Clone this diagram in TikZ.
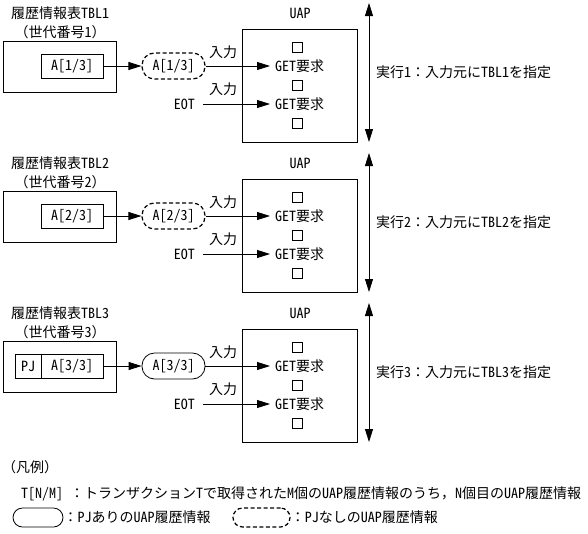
\documentclass[tikz,border=0pt]{standalone}
\usepackage{fontspec}
\setmainfont{Noto Sans CJK JP}
\newfontfamily\hwfont{Noto Sans CJK JP}[RawFeature=+hwid]
\newcommand{\hw}[1]{{\hwfont #1}}
\usetikzlibrary{arrows.meta}
\begin{document}
\begin{tikzpicture}[x=1pt,y=-1pt,
  font=\fontsize{14}{16}\selectfont,
  every node/.style={inner sep=0pt},
  box/.style={draw, line width=0.8pt},
  lbl/.style={anchor=west},
  pillsolid/.style={draw, line width=0.8pt, rounded corners=12.5pt, minimum width=63pt, minimum height=26pt},
  pilldash/.style={pillsolid, dash pattern=on 4pt off 2.5pt, line width=1.2pt},
  arr/.style={line width=0.8pt, -{Triangle[length=13pt,width=8pt]}},
  darr/.style={line width=0.8pt, {Triangle[length=13pt,width=8pt]}-{Triangle[length=13pt,width=8pt]}},
  sqbox/.style={draw, line width=0.8pt, minimum size=10pt},
]
\useasboundingbox (0,0) rectangle (588,533);

\foreach \k/\dy in {1/0,2/150,3/300}{
\begin{scope}[shift={(0,\dy)}]
  % titles
  \node (title\k) at (60,13) {履歴情報表\hw{TBL\k}};
  \node (gen\k) at (60,32) {（世代番号\hw{\k}）};
  % outer box
  \node[box, minimum width=113pt, minimum height=51pt] (outer\k) at (59.5,66.5) {};
  \ifnum\k=3
    \node[box, minimum width=26pt, minimum height=24pt] (pj\k) at (28,66) {\hw{PJ}};
    \node[box, minimum width=62pt, minimum height=24pt] (inner\k) at (72,66) {\hw{A[\k/3]}};
    \node[pillsolid] (pill\k) at (173.5,66) {\hw{A[\k/3]}};
  \else
    \node[box, minimum width=62pt, minimum height=24pt] (inner\k) at (72,66) {\hw{A[\k/3]}};
    \node[pilldash] (pill\k) at (173.5,66) {\hw{A[\k/3]}};
  \fi
  % UAP box
  \node (uapl\k) at (300,13) {\hw{UAP}};
  \node[box, minimum width=115pt, minimum height=113pt] (uap\k) at (299.5,85.5) {};
  \node[sqbox] (sqa\k) at (297.5,47) {};
  \node[anchor=west] (geta\k) at (275,66) {\hw{GET}要求};
  \node[sqbox] (sqb\k) at (297.5,85) {};
  \node[anchor=west] (getb\k) at (275,104) {\hw{GET}要求};
  \node[sqbox] (sqc\k) at (297.5,123) {};
  % inputs
  \node (ina\k) at (223,52) {入力};
  \node (inb\k) at (223,89) {入力};
  \node[anchor=east] (eot\k) at (195,104) {\hw{EOT}};
  % connectors
  \draw[arr] (inner\k.east) -- (pill\k.west);
  \draw[arr, shorten >=5pt] (pill\k.east) -- (pill\k.east -| geta\k.west);
  \draw[arr, shorten <=8pt, shorten >=5pt] (eot\k.east) -- (eot\k.east -| getb\k.west);
  % run arrow
  \coordinate (rt\k) at (369,3);
  \coordinate (rb\k) at (369,142);
  \draw[darr] (rt\k) -- (rb\k);
  \node[anchor=west] (run\k) at (376,72) {実行\hw{\k}：入力元に\hw{TBL\k}を指定};
\end{scope}
}

% legend
\node[anchor=west] (legh) at (2,467) {（凡例）};
\node[anchor=west] (legt) at (21,494) {\hw{T[N/M] }：トランザクション\hw{T}で取得された\hw{M}個の\hw{UAP}履歴情報のうち，\hw{N}個目の\hw{UAP}履歴情報};
\node[pillsolid, rounded corners=9.5pt, minimum width=50pt, minimum height=19pt] (lps) at (38,517.5) {};
\node[anchor=west] (lts) at (lps.east) {：\hw{PJ}ありの\hw{UAP}履歴情報};
\node[pilldash, rounded corners=9.5pt, minimum width=57pt, minimum height=19pt] (lpd) at (261.5,517.5) {};
\node[anchor=west] (ltd) at (lpd.east) {：\hw{PJ}なしの\hw{UAP}履歴情報};
\end{tikzpicture}
\end{document}
